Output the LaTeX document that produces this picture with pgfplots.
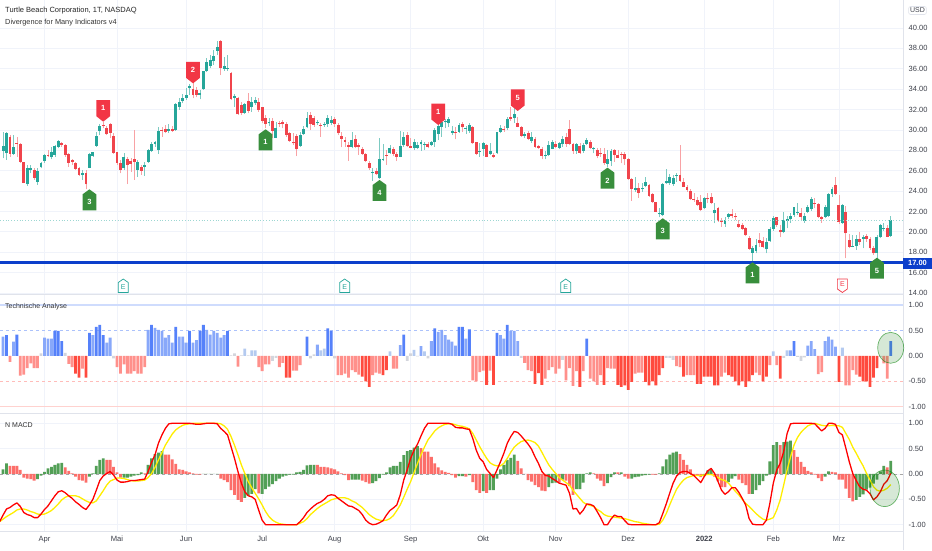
\documentclass[border=0pt]{standalone}
\usepackage{pgfplots}
\usepackage{pgfplotstable}
\usepackage{fontspec}
\setmainfont{Liberation Sans}
\pgfplotsset{compat=1.18}
\definecolor{upc}{HTML}{26A69A}
\definecolor{dnc}{HTML}{F0444C}
\definecolor{gridc}{HTML}{F0F3FA}
\definecolor{sepc}{HTML}{E0E3EB}
\definecolor{txt}{HTML}{3E414B}
\definecolor{pinr}{HTML}{F23645}
\definecolor{ping}{HTML}{388E3C}
\definecolor{tad}{HTML}{5581FA}
\definecolor{tal}{HTML}{88A8FA}
\definecolor{tav}{HTML}{B4CAF0}
\definecolor{tag}{HTML}{D3D5DC}
\definecolor{tar}{HTML}{FF4A3E}
\definecolor{tas}{HTML}{FF908B}
\definecolor{hg}{HTML}{529F56}
\definecolor{hr}{HTML}{FC6E69}
\definecolor{lineb}{HTML}{0C3FCB}
\definecolor{macdy}{HTML}{FFEE00}
\pgfdeclareplotmark{gpin}{%
  \pgfpathmoveto{\pgfqpoint{-6.9pt}{-5pt}}\pgfpathlineto{\pgfqpoint{0pt}{0pt}}\pgfpathlineto{\pgfqpoint{6.9pt}{-5pt}}%
  \pgfsetcornersarced{\pgfpoint{1pt}{1pt}}\pgfpathlineto{\pgfqpoint{6.9pt}{-21pt}}\pgfpathlineto{\pgfqpoint{-6.9pt}{-21pt}}\pgfpathclose\pgfusepathqfill}
\pgfdeclareplotmark{rpin}{%
  \pgfpathmoveto{\pgfqpoint{-6.9pt}{5.5pt}}\pgfpathlineto{\pgfqpoint{0pt}{0pt}}\pgfpathlineto{\pgfqpoint{6.9pt}{5.5pt}}%
  \pgfsetcornersarced{\pgfpoint{1pt}{1pt}}\pgfpathlineto{\pgfqpoint{6.9pt}{21.5pt}}\pgfpathlineto{\pgfqpoint{-6.9pt}{21.5pt}}\pgfpathclose\pgfusepathqfill}
\pgfdeclareplotmark{eup}{%
  \pgfpathmoveto{\pgfqpoint{-5pt}{-3.5pt}}\pgfpathlineto{\pgfqpoint{0pt}{0pt}}\pgfpathlineto{\pgfqpoint{5pt}{-3.5pt}}\pgfpathlineto{\pgfqpoint{5pt}{-13.5pt}}\pgfpathlineto{\pgfqpoint{-5pt}{-13.5pt}}\pgfpathclose\pgfusepathqstroke}
\pgfdeclareplotmark{edn}{%
  \pgfpathmoveto{\pgfqpoint{-5pt}{3.5pt}}\pgfpathlineto{\pgfqpoint{0pt}{0pt}}\pgfpathlineto{\pgfqpoint{5pt}{3.5pt}}\pgfpathlineto{\pgfqpoint{5pt}{13.5pt}}\pgfpathlineto{\pgfqpoint{-5pt}{13.5pt}}\pgfpathclose\pgfusepathqstroke}
\pgfplotstableread{
i o h l c
-12 27.97 29.83 27.21 28.42
-11 27.70 29.83 27.05 29.67
-10 29.34 29.50 27.38 27.64
-9 27.64 29.50 27.54 28.36
-8 28.75 29.34 27.38 28.65
-7 28.62 28.68 26.79 26.89
-6 26.89 26.89 24.76 24.82
-5 24.66 26.56 24.50 26.23
-4 26.07 26.56 25.74 26.30
-3 26.07 26.23 25.09 25.32
-2 24.92 26.23 24.60 26.00
-1 26.33 26.82 26.23 26.72
0 26.95 27.64 26.79 27.51
1 27.54 28.03 27.38 27.44
2 27.31 28.36 27.11 27.83
3 27.54 28.52 27.38 28.42
4 28.36 29.01 28.19 28.95
5 28.68 28.85 28.36 28.55
6 28.55 28.62 27.38 27.54
7 27.61 27.70 26.39 26.79
8 27.02 27.11 26.56 26.89
9 26.72 26.82 26.07 26.17
10 26.30 26.39 25.48 25.58
11 25.61 26.07 25.09 25.74
12 25.77 26.07 24.17 24.66
13 26.30 27.70 26.23 27.64
14 27.47 27.87 27.38 27.80
15 28.46 29.83 28.36 29.40
16 29.90 30.58 29.50 30.39
17 30.48 30.81 30.16 30.39
18 30.22 30.39 29.50 29.60
19 30.58 30.65 29.18 29.73
20 29.37 29.67 27.64 27.77
21 27.83 27.87 26.56 26.79
22 26.72 27.05 25.74 26.07
23 26.23 27.70 26.07 27.38
24 27.11 27.38 24.69 26.56
25 26.95 27.21 25.90 26.66
26 27.11 29.99 25.09 26.85
27 26.07 27.05 25.41 26.85
28 26.39 26.56 25.58 26.00
29 26.39 26.89 25.48 26.53
30 26.89 28.10 26.79 27.99
31 27.97 28.85 27.87 28.62
32 28.62 28.95 28.36 28.85
33 28.03 30.32 27.64 29.90
34 30.03 30.32 29.34 29.93
35 30.09 30.48 29.67 29.83
36 29.90 30.58 29.73 30.06
37 30.06 30.39 29.83 29.93
38 30.00 32.61 29.93 32.54
39 32.28 33.10 31.96 32.71
40 32.84 33.53 32.61 33.10
41 33.13 34.08 32.94 33.46
42 34.08 34.51 33.43 34.31
43 33.98 34.64 33.10 33.43
44 33.92 34.18 33.20 33.43
45 33.43 33.92 33.00 33.66
46 33.98 35.82 33.92 35.75
47 35.75 37.03 35.68 36.63
48 36.31 37.35 36.04 36.86
49 36.80 37.84 36.37 37.25
50 37.75 38.76 37.35 38.17
51 38.76 38.83 35.39 36.08
52 36.01 37.19 35.82 36.27
53 36.04 37.35 35.82 36.08
54 35.62 35.72 32.94 33.00
55 33.17 33.53 32.28 33.30
56 33.13 33.26 31.47 31.53
57 32.45 32.77 31.47 31.63
58 31.69 32.68 31.56 32.58
59 32.87 33.59 31.63 31.86
60 32.28 33.20 31.79 32.77
61 32.61 33.26 32.45 32.94
62 32.71 33.10 31.79 31.96
63 32.22 32.28 30.65 30.91
64 31.17 31.46 30.16 30.58
65 30.65 31.14 30.39 30.78
66 30.84 31.14 29.18 29.93
67 29.24 30.81 29.18 30.16
68 30.65 30.91 30.32 30.58
69 30.81 30.97 30.16 30.58
70 30.55 30.81 29.34 29.50
71 29.67 29.83 28.85 28.91
72 28.85 29.67 28.52 28.68
73 29.40 29.60 27.44 28.10
74 28.46 29.83 28.36 29.50
75 29.60 30.39 29.50 30.06
76 30.25 31.79 30.16 31.20
77 31.50 31.79 29.99 30.58
78 31.14 31.37 30.32 30.48
79 30.65 30.97 30.48 30.75
80 30.48 30.71 29.34 30.39
81 30.45 30.81 30.32 30.55
82 30.55 31.46 30.32 31.14
83 30.71 31.37 30.48 30.97
84 31.10 31.30 30.32 30.58
85 30.48 30.65 29.50 29.67
86 29.44 29.83 28.29 29.14
87 29.01 29.27 28.36 28.82
88 28.52 28.85 26.98 28.36
89 28.36 29.76 28.19 29.01
90 29.08 29.50 28.19 28.36
91 28.55 28.75 27.54 28.29
92 28.13 28.36 27.54 27.64
93 27.64 27.70 26.89 26.98
94 26.79 26.98 26.07 26.23
95 25.81 26.23 25.02 25.90
96 26.00 26.23 25.58 25.64
97 25.25 29.18 25.15 27.11
98 27.05 28.62 26.98 27.15
99 27.57 28.03 26.56 27.47
100 27.70 28.52 27.64 28.23
101 28.13 28.36 27.44 27.64
102 27.64 27.87 26.95 27.38
103 27.38 29.90 27.31 28.42
104 28.49 29.83 28.36 29.34
105 29.47 29.83 28.36 28.42
106 28.46 29.18 28.19 28.26
107 28.19 29.08 28.03 28.78
108 28.23 28.85 28.10 28.55
109 28.59 29.01 27.97 28.78
110 28.55 28.85 28.03 28.62
111 28.62 28.85 28.19 28.36
112 28.55 28.95 28.42 28.78
113 28.78 30.16 28.36 29.99
114 29.60 30.71 29.01 30.39
115 30.32 30.91 29.34 30.78
116 30.75 31.04 30.16 30.88
117 30.65 31.24 30.32 31.04
118 29.73 30.39 29.50 29.86
119 29.80 30.32 29.08 29.67
120 29.83 30.65 29.73 30.45
121 30.58 30.81 29.83 30.25
122 30.09 30.39 29.60 30.19
123 29.93 30.71 29.73 30.48
124 30.25 30.39 28.62 28.68
125 28.78 28.85 27.54 27.67
126 27.80 28.68 27.38 27.90
127 28.13 28.85 27.44 28.75
128 28.49 28.62 27.31 27.38
129 27.64 28.68 27.54 27.93
130 27.57 27.77 27.28 27.38
131 27.70 29.83 27.64 29.76
132 29.80 30.48 29.67 30.16
133 30.09 30.39 29.83 29.99
134 30.16 31.30 29.99 31.04
135 31.27 32.28 30.91 31.10
136 31.14 32.12 30.65 31.53
137 30.71 31.24 30.25 30.32
138 30.32 30.39 29.34 29.44
139 29.40 29.83 29.18 29.60
140 29.73 29.90 29.01 29.14
141 28.91 29.83 28.75 29.34
142 29.11 29.34 28.26 28.36
143 28.39 28.52 28.10 28.23
144 28.13 28.36 27.11 27.47
145 27.44 27.97 27.11 27.57
146 27.51 28.95 27.44 28.55
147 28.16 29.01 28.10 28.78
148 28.59 28.95 28.19 28.36
149 28.26 28.85 28.10 28.75
150 28.59 29.40 28.36 29.08
151 29.27 29.73 28.36 28.62
152 30.06 30.97 28.52 28.62
153 28.62 28.68 27.64 27.90
154 27.97 28.75 27.64 28.62
155 28.42 28.68 27.64 27.77
156 27.97 28.68 27.77 28.52
157 28.62 29.18 28.52 29.01
158 28.85 29.01 28.10 28.26
159 28.10 28.36 27.70 28.19
160 28.03 28.19 27.21 27.44
161 27.70 28.19 27.38 27.60
162 27.67 28.19 26.56 26.72
163 26.66 28.03 26.39 27.11
164 26.98 28.10 26.46 27.97
165 28.03 28.10 26.89 27.54
166 27.54 28.03 27.21 27.28
167 27.60 27.87 26.72 27.54
168 27.60 27.87 26.56 27.11
169 27.15 27.21 25.09 25.15
170 25.15 25.25 23.06 24.17
171 24.11 25.41 23.94 24.27
172 24.34 24.76 23.35 23.84
173 24.17 24.82 23.94 24.27
174 24.50 25.35 24.37 24.89
175 24.56 24.69 23.45 23.55
176 23.71 23.84 22.86 22.96
177 22.89 22.96 21.91 21.98
178 21.72 22.31 21.42 21.82
179 21.65 24.76 21.55 24.69
180 24.76 26.13 24.69 24.96
181 24.76 25.68 24.60 25.41
182 24.66 25.58 24.50 25.32
183 25.51 25.74 24.92 25.61
184 25.61 28.52 24.92 24.99
185 24.92 25.25 24.37 24.43
186 24.37 24.60 23.94 24.11
187 24.01 24.17 23.12 23.22
188 23.25 23.78 22.96 23.12
189 23.12 23.45 22.53 22.63
190 22.89 23.61 22.01 22.14
191 22.31 23.45 22.21 23.29
192 23.29 23.78 22.80 23.19
193 23.39 23.84 22.73 22.86
194 21.82 22.80 20.83 22.14
195 22.31 22.40 21.00 21.10
196 21.10 21.32 20.51 20.97
197 20.77 21.49 20.51 21.16
198 21.49 21.88 21.23 21.75
199 21.72 22.21 21.32 21.55
200 21.59 21.82 21.16 21.42
201 20.77 21.16 20.41 20.51
202 20.70 20.90 20.18 20.31
203 20.34 20.51 19.59 19.69
204 19.39 19.59 18.22 18.35
205 17.96 18.61 17.07 18.45
206 18.15 19.26 17.89 18.68
207 19.23 19.85 18.54 18.90
208 19.13 19.46 18.38 18.54
209 18.28 19.36 17.89 19.00
210 19.13 20.51 19.03 20.31
211 20.28 21.55 20.11 21.39
212 21.42 21.49 20.51 20.67
213 20.18 20.67 19.46 19.95
214 20.02 21.98 19.85 21.13
215 21.10 21.55 20.34 21.26
216 21.23 21.82 20.90 21.59
217 21.65 22.47 21.49 22.40
218 21.88 22.80 21.65 21.98
219 21.88 22.31 21.16 21.49
220 21.10 21.82 20.90 21.55
221 21.98 22.63 21.82 22.47
222 22.21 23.45 22.08 23.25
223 22.86 23.29 22.31 22.73
224 22.70 22.80 21.32 21.46
225 21.42 21.55 20.90 21.26
226 21.49 22.63 21.32 22.40
227 21.55 23.84 21.49 23.75
228 23.71 24.43 23.45 24.24
229 24.60 25.35 23.61 23.71
230 22.60 23.61 20.77 20.97
231 20.90 22.73 20.77 22.60
232 21.98 22.53 17.40 19.85
233 19.20 19.79 18.38 18.54
234 18.54 19.69 18.48 18.64
235 18.61 19.69 18.22 19.33
236 19.33 20.02 18.71 19.00
237 19.26 19.69 18.38 19.46
238 19.62 19.79 19.03 19.30
239 19.33 19.53 18.22 18.38
240 18.41 18.61 17.73 17.89
241 17.89 19.69 17.07 19.53
242 19.46 20.77 19.36 20.64
243 20.25 20.83 20.11 20.34
244 20.38 20.67 19.46 19.53
245 19.62 21.55 19.53 21.16
}\candles
\pgfplotstableread{
i v k
-12 .38 2
-11 .41 1
-10 -.12 6
-9 .28 2
-8 .42 1
-7 -.39 6
-6 -.37 6
-5 -.24 6
-4 -.15 6
-3 -.24 6
-2 -.24 6
-1 .05 4
0 .36 2
1 .34 2
2 .34 2
3 .49 1
4 .49 1
5 .29 1
6 .06 4
7 -.16 6
8 -.22 6
9 -.35 5
10 -.43 5
11 -.25 6
12 -.43 5
13 .45 1
14 .41 2
15 .57 1
16 .61 1
17 .41 1
18 .26 2
19 .36 2
20 -.05 4
21 -.22 6
22 -.35 6
23 -.17 6
24 -.35 6
25 -.35 6
26 -.30 6
27 -.35 6
28 -.35 6
29 -.22 6
30 .51 2
31 .61 1
32 .55 2
33 .51 2
34 .49 2
35 .36 2
36 .41 2
37 .26 2
38 .57 1
39 .38 2
40 .38 2
41 .26 2
42 .49 1
43 .26 2
44 .31 2
45 .49 1
46 .61 1
47 .51 2
48 .42 2
49 .49 2
50 .45 2
51 .36 2
52 .41 2
53 .49 1
54 .01 4
55 .05 4
56 -.21 6
57 .01 4
58 .14 3
59 .01 4
60 .11 3
61 .11 3
62 -.22 6
63 -.30 6
64 -.17 6
65 -.17 6
66 -.10 4
67 -.04 4
68 -.22 6
69 -.14 6
70 -.43 5
71 -.43 5
72 -.29 6
73 -.29 6
74 -.18 6
75 .00 4
76 .38 1
77 -.05 4
78 .03 4
79 .22 2
80 .11 3
81 .14 3
82 .54 1
83 .49 1
84 -.05 4
85 -.38 6
86 -.38 6
87 -.35 6
88 -.43 6
89 -.28 6
90 -.32 6
91 -.37 6
92 -.41 5
93 -.50 5
94 -.61 5
95 -.38 6
96 -.33 6
97 -.35 6
98 -.38 5
99 -.28 5
100 .09 3
101 -.25 6
102 -.25 6
103 .21 2
104 .42 1
105 -.10 4
106 .05 4
107 .12 3
108 -.01 4
109 .19 2
110 .09 3
111 -.05 4
112 .29 2
113 .54 1
114 .47 2
115 .51 2
116 .41 2
117 .32 2
118 .28 2
119 .20 2
120 .57 1
121 .57 1
122 .34 2
123 .52 1
124 -.48 6
125 -.50 6
126 -.32 6
127 -.29 6
128 -.57 5
129 -.29 6
130 -.57 5
131 .45 1
132 .41 2
133 .34 2
134 .61 1
135 .49 2
136 .49 2
137 .29 2
138 -.04 4
139 -.14 6
140 -.28 6
141 -.30 6
142 -.55 5
143 -.34 5
144 -.57 5
145 -.45 6
146 -.28 6
147 -.22 6
148 -.35 6
149 -.25 6
150 -.08 4
151 -.48 6
152 -.24 6
153 -.59 6
154 -.30 6
155 -.61 5
156 -.30 6
157 .34 1
158 -.45 6
159 -.50 6
160 -.57 6
161 -.38 6
162 -.57 5
163 -.24 6
164 -.25 6
165 -.25 6
166 -.57 5
167 -.61 5
168 -.58 5
169 -.67 5
170 -.51 5
171 -.35 6
172 -.33 6
173 -.33 6
174 -.51 5
175 -.58 5
176 -.50 5
177 -.58 5
178 -.38 5
179 -.24 5
180 -.04 4
181 -.04 4
182 -.08 4
183 -.20 6
184 -.22 6
185 -.41 5
186 -.38 6
187 -.38 6
188 -.38 6
189 -.55 5
190 -.55 5
191 -.41 5
192 -.41 5
193 -.41 5
194 -.58 5
195 -.58 5
196 -.41 6
197 -.33 6
198 -.38 5
199 -.41 5
200 -.50 5
201 -.58 5
202 -.50 5
203 -.61 5
204 -.50 5
205 -.38 5
206 -.33 6
207 -.38 6
208 -.50 5
209 -.41 5
210 -.18 6
211 .09 3
212 -.18 6
213 -.45 5
214 -.04 4
215 .11 3
216 .11 2
217 .29 1
218 -.02 4
219 -.10 4
220 -.03 4
221 .20 2
222 .29 2
223 .13 2
224 -.36 6
225 -.32 6
226 .29 2
227 .38 2
228 .32 2
229 .18 2
230 -.51 5
231 .16 3
232 -.58 6
233 -.58 6
234 -.28 6
235 -.37 6
236 -.41 5
237 -.50 5
238 -.50 5
239 -.61 5
240 -.43 5
241 -.24 5
242 -.02 4
243 -.15 6
244 -.45 6
245 .29 1
}\tarating
\pgfplotstableread{
i r y
-13 -.94 -.94
-12 -.81 -.89
-11 -.69 -.84
-10 -.66 -.80
-9 -.61 -.76
-8 -.57 -.71
-7 -.64 -.69
-6 -.76 -.69
-5 -.80 -.71
-4 -.82 -.74
-3 -.86 -.76
-2 -.86 -.79
-1 -.79 -.80
0 -.70 -.79
1 -.63 -.76
2 -.53 -.72
3 -.43 -.66
4 -.35 -.59
5 -.33 -.51
6 -.37 -.46
7 -.43 -.43
8 -.48 -.43
9 -.55 -.43
10 -.60 -.45
11 -.66 -.49
12 -.70 -.53
13 -.61 -.56
14 -.50 -.57
15 -.32 -.53
16 -.13 -.43
17 -.04 -.33
18 .01 -.22
19 .05 -.14
20 -.02 -.11
21 -.12 -.08
22 -.16 -.08
23 -.16 -.09
24 -.15 -.11
25 -.13 -.13
26 -.13 -.14
27 -.12 -.14
28 -.11 -.13
29 -.10 -.12
30 .05 -.07
31 .23 .01
32 .38 .13
33 .61 .28
34 .77 .42
35 .90 .57
36 .99 .68
37 1 .79
38 1 .87
39 1 .92
40 1 .96
41 1 .98
42 1 .99
43 .99 1
44 .98 1
45 .98 1
46 .99 1
47 1 1
48 1 1
49 1 1
50 .99 1
51 .90 .99
52 .84 .95
53 .77 .88
54 .54 .74
55 .31 .57
56 .05 .38
57 -.18 .18
58 -.35 .01
59 -.43 -.15
60 -.45 -.27
61 -.50 -.38
62 -.71 -.49
63 -.91 -.61
64 -1 -.74
65 -1 -.84
66 -1 -.91
67 -1 -.95
68 -1 -.98
69 -1 -.99
70 -1 -1
71 -1 -1
72 -1 -1
73 -1 -1
74 -.94 -.97
75 -.86 -.94
76 -.76 -.88
77 -.69 -.80
78 -.63 -.74
79 -.58 -.68
80 -.55 -.63
81 -.50 -.59
82 -.43 -.55
83 -.41 -.51
84 -.42 -.49
85 -.48 -.47
86 -.53 -.47
87 -.58 -.47
88 -.63 -.49
89 -.64 -.53
90 -.68 -.56
91 -.72 -.61
92 -.80 -.66
93 -.91 -.73
94 -.97 -.80
95 -1 -.85
96 -.99 -.89
97 -.96 -.91
98 -.92 -.92
99 -.81 -.91
100 -.72 -.88
101 -.67 -.82
102 -.61 -.72
103 -.41 -.61
104 -.12 -.46
105 .08 -.30
106 .31 -.15
107 .47 .03
108 .59 .21
109 .75 .38
110 .90 .53
111 1 .67
112 1 .76
113 1 .85
114 1 .91
115 1 .95
116 1 .98
117 1 .99
118 .98 .99
119 .92 .97
120 .91 .95
121 .91 .94
122 .89 .92
123 .88 .89
124 .70 .80
125 .47 .67
126 .31 .54
127 .24 .42
128 .09 .31
129 .01 .22
130 -.07 .18
131 .08 .16
132 .24 .16
133 .41 .21
134 .61 .31
135 .74 .43
136 .84 .53
137 .82 .59
138 .75 .64
139 .67 .66
140 .59 .67
141 .49 .65
142 .34 .62
143 .21 .55
144 .05 .43
145 -.03 .30
146 -.04 .18
147 -.09 .09
148 -.13 .01
149 -.18 -.07
150 -.20 -.12
151 -.22 -.17
152 -.38 -.22
153 -.69 -.32
154 -.68 -.40
155 -.79 -.48
156 -.71 -.56
157 -.59 -.60
158 -.60 -.62
159 -.63 -.64
160 -.74 -.70
161 -.86 -.74
162 -1 -.80
163 -1 -.83
164 -.89 -.84
165 -.81 -.85
166 -.84 -.86
167 -.84 -.87
168 -.92 -.88
169 -.99 -.90
170 -1 -.92
171 -1 -.94
172 -1 -.95
173 -1 -.97
174 -1 -.98
175 -1 -.99
176 -1 -1
177 -1 -1
178 -.96 -.99
179 -.78 -.91
180 -.59 -.78
181 -.38 -.61
182 -.18 -.45
183 -.04 -.30
184 .03 -.20
185 .05 -.12
186 .05 -.07
187 .01 -.05
188 -.03 -.03
189 -.10 -.03
190 -.17 -.03
191 -.05 -.02
192 .06 -.01
193 .11 -.01
194 .01 -.03
195 -.15 -.07
196 -.32 -.11
197 -.40 -.13
198 -.35 -.18
199 -.27 -.26
200 -.27 -.34
201 -.36 -.41
202 -.48 -.50
203 -.61 -.58
204 -.88 -.64
205 -.99 -.71
206 -1 -.78
207 -1 -.84
208 -1 -.89
209 -.91 -.91
210 -.58 -.89
211 -.18 -.86
212 .08 -.71
213 .21 -.51
214 .44 -.22
215 .80 .08
216 .99 .34
217 1 .57
218 1 .72
219 1 .82
220 1 .89
221 1 .95
222 1 .98
223 .99 1
224 .92 .98
225 .85 .96
226 .90 .95
227 1 .95
228 1 .96
229 .98 .95
230 .82 .95
231 .77 .92
232 .51 .80
233 .24 .68
234 .01 .53
235 -.13 .41
236 -.25 .28
237 -.30 .16
238 -.32 .01
239 -.39 -.12
240 -.51 -.25
241 -.45 -.32
242 -.35 -.34
243 -.20 -.32
244 -.13 -.28
245 .01 -.21
}\macdlines
\pgfplotstableread{
i h k
-12 .09 1
-11 .21 1
-10 .16 0
-9 .16 0
-8 .16 0
-7 .08 0
-6 -.07 0
-5 -.09 0
-4 -.10 0
-3 -.13 0
-2 -.10 1
-1 -.03 1
0 .04 1
1 .11 1
2 .14 1
3 .18 1
4 .21 1
5 .22 1
6 .13 0
7 .06 0
8 .01 0
9 -.05 0
10 -.12 0
11 -.13 0
12 -.17 0
13 -.05 1
14 .01 1
15 .16 1
16 .28 1
17 .31 1
18 .28 0
19 .28 0
20 .14 0
21 .03 0
22 -.07 0
23 -.07 1
24 -.07 1
25 -.05 1
26 -.03 1
27 -.02 1
28 .03 1
29 .01 0
30 .18 1
31 .31 1
32 .39 1
33 .42 1
34 .45 1
35 .38 0
36 .38 0
37 .29 0
38 .20 0
39 .09 0
40 .08 0
41 .05 0
42 .03 0
43 .01 0
44 -.01 0
45 -.01 0
46 0 1
47 0 1
48 0 1
49 0 1
50 0 1
51 -.09 0
52 -.12 0
53 -.16 0
54 -.32 0
55 -.41 0
56 -.51 0
57 -.55 0
58 -.47 1
59 -.43 1
60 -.39 1
61 -.30 1
62 -.38 0
63 -.39 1
64 -.30 1
65 -.25 1
66 -.20 1
67 -.14 1
68 -.09 1
69 -.05 1
70 -.03 1
71 -.01 1
72 -.01 1
73 .03 1
74 .04 1
75 .08 1
76 .17 1
77 .18 1
78 .18 1
79 .18 0
80 .14 0
81 .14 0
82 .13 0
83 .11 0
84 .09 0
85 .05 0
86 .01 0
87 -.02 0
88 -.12 0
89 -.11 1
90 -.11 1
91 -.11 1
92 -.13 0
93 -.16 0
94 -.19 0
95 -.18 1
96 -.14 1
97 -.08 1
98 -.01 1
99 .03 1
100 .13 1
101 .16 1
102 .16 1
103 .24 1
104 .37 1
105 .45 1
106 .47 1
107 .52 1
108 .55 1
109 .51 0
110 .44 0
111 .44 0
112 .34 0
113 .21 0
114 .13 0
115 .07 0
116 .04 0
117 .02 0
118 -.02 0
119 -.07 0
120 -.04 1
121 -.04 1
122 -.05 0
123 -.02 1
124 -.16 0
125 -.32 0
126 -.37 0
127 -.34 1
128 -.37 0
129 -.32 1
130 -.32 1
131 -.09 1
132 .09 1
133 .18 1
134 .28 1
135 .32 1
136 .38 1
137 .26 0
138 .11 0
139 0 0
140 -.12 0
141 -.15 0
142 -.22 0
143 -.26 0
144 -.33 0
145 -.34 0
146 -.26 1
147 -.18 1
148 -.17 1
149 -.17 0
150 -.11 1
151 -.13 0
152 -.24 0
153 -.41 0
154 -.30 1
155 -.30 1
156 -.17 1
157 .01 1
158 .03 1
159 .01 0
160 -.09 0
161 -.13 0
162 -.24 0
163 -.18 1
164 -.06 1
165 .03 1
166 .03 0
167 .03 1
168 -.05 0
169 -.09 0
170 -.09 1
171 -.06 1
172 -.05 1
173 -.03 1
174 -.02 1
175 -.01 1
176 -.01 0
177 -.01 0
178 .01 1
179 .15 1
180 .29 1
181 .38 1
182 .42 1
183 .44 1
184 .39 0
185 .28 0
186 .18 0
187 .09 0
188 -.03 0
189 -.03 0
190 -.06 0
191 -.04 1
192 .07 1
193 .09 1
194 -.05 0
195 -.14 0
196 -.26 0
197 -.26 0
198 -.16 1
199 -.09 1
200 -.04 1
201 -.11 0
202 -.18 0
203 -.22 0
204 -.39 0
205 -.39 1
206 -.32 1
207 -.22 1
208 -.14 1
209 -.03 1
210 .25 1
211 .57 1
212 .63 1
213 .57 0
214 .63 1
215 .64 1
216 .66 1
217 .47 0
218 .34 0
219 .24 0
220 .14 0
221 .06 0
222 .03 0
223 -.01 0
224 -.08 0
225 -.14 0
226 -.05 1
227 .05 1
228 .04 0
229 .03 0
230 -.11 0
231 -.11 0
232 -.29 0
233 -.47 0
234 -.54 0
235 -.51 1
236 -.45 1
237 -.40 1
238 -.31 1
239 -.27 1
240 -.19 1
241 -.11 1
242 .05 1
243 .16 1
244 .13 0
245 .26 1
}\macdhist
\pgfplotsset{
  pane/.style={scale only axis,width=903pt,xmin=-12.884,xmax=248.55,
    axis line style={draw=none},tick style={draw=none},clip=false,
    xtick={0,21,41,63,84,106,127,148,169,191,211,230},xticklabels={},
    yticklabel pos=right,xmajorgrids,
    grid style={color=gridc,line width=0.7pt},
    /pgf/number format/assume math mode=true,
    /pgf/number format/fixed,/pgf/number format/fixed zerofill,/pgf/number format/precision=2,
    yticklabel style={font=\fontsize{7.5}{9}\selectfont,text=txt,anchor=west,xshift=2.2pt},
    xticklabel style={font=\fontsize{7.6}{9}\selectfont,text=txt,text height=6pt,text depth=1pt}},
  tabar/.style={ybar,bar width=2.8pt,bar shift=0pt,draw=none,fill=#1,forget plot},
  wick/.style={draw=none,no markers,forget plot,error bars/.cd,y dir=plus,y explicit,error mark=none,error bar style={draw=#1,line width=0.7pt}},
  body/.style={draw=none,no markers,forget plot,error bars/.cd,y dir=plus,y explicit,error mark=none,error bar style={draw=#1,line width=2.9pt}},
}
\newcommand{\tabars}[2]{\addplot[tabar=#2] table[x=i,y expr={\thisrow{k}==#1?\thisrow{v}:nan}]{\tarating};}
\newcommand{\hbars}[2]{\addplot[tabar=#2] table[x=i,y expr={\thisrow{k}==#1?\thisrow{h}:nan}]{\macdhist};}
\begin{document}
\begin{tikzpicture}
\path[use as bounding box,fill=white] (0pt,0pt) rectangle (932pt,550pt);
% price pane
\begin{axis}[pane,at={(0pt,256pt)},anchor=south west,height=294pt,
  ymin=13.90,ymax=42.75,ytick={14,16,...,40},ymajorgrids]
\addplot[wick=upc!60] table[x expr={\thisrow{c}>=\thisrow{o}?\thisrow{i}:nan},y=l,y error plus expr=\thisrow{h}-\thisrow{l}]{\candles};
\addplot[wick=dnc!50] table[x expr={\thisrow{c}<\thisrow{o}?\thisrow{i}:nan},y=l,y error plus expr=\thisrow{h}-\thisrow{l}]{\candles};
\addplot[body=upc] table[x expr={\thisrow{c}>=\thisrow{o}?\thisrow{i}:nan},y=o,y error plus expr=\thisrow{c}-\thisrow{o}]{\candles};
\addplot[body=dnc] table[x expr={\thisrow{c}<\thisrow{o}?\thisrow{i}:nan},y=c,y error plus expr=\thisrow{o}-\thisrow{c}]{\candles};
\addplot[forget plot,color=upc!45,line width=0.8pt,dotted] coordinates {(-12.884,21.16)(248.55,21.16)};
\addplot[forget plot,color=lineb!60,line width=3.4pt] coordinates {(-12.884,17)(248.55,17)};
\addplot[forget plot,color=lineb,line width=2.3pt] coordinates {(-12.884,17)(248.55,17)};
\addplot[only marks,mark=gpin,mark options={fill=ping,draw=none},point meta=explicit symbolic,
  nodes near coords,every node near coord/.append style={anchor=center,yshift=-13pt,text=white,font=\fontsize{7.5}{8}\selectfont\bfseries}]
  coordinates {(13,24.17)[3] (64,30.06)[1] (97,25.09)[4] (163,26.30)[2] (179,21.33)[3] (205,17.01)[1] (241,17.46)[5]};
\addplot[only marks,mark=rpin,mark options={fill=pinr,draw=none},point meta=explicit symbolic,
  nodes near coords,every node near coord/.append style={anchor=center,yshift=13.5pt,text=white,font=\fontsize{7.5}{8}\selectfont\bfseries}]
  coordinates {(17,30.81)[1] (43,34.57)[2] (114,30.48)[1] (137,31.86)[5]};
\addplot[only marks,mark=eup,mark options={draw=upc,line width=0.7pt},point meta=explicit symbolic,
  nodes near coords,every node near coord/.append style={anchor=center,yshift=-8.5pt,text=upc,font=\fontsize{7}{8}\selectfont}]
  coordinates {(22.8,15.37)[E] (86.9,15.37)[E] (150.9,15.37)[E]};
\addplot[only marks,mark=edn,mark options={draw=pinr,line width=0.7pt},point meta=explicit symbolic,
  nodes near coords,every node near coord/.append style={anchor=center,yshift=8.5pt,text=pinr,font=\fontsize{7}{8}\selectfont}]
  coordinates {(231,14.05)[E]};
\end{axis}
% technical rating pane
\begin{axis}[pane,at={(0pt,136.5pt)},anchor=south west,height=118.5pt,
  ymin=-1.134,ymax=1.197,ytick={-1,-0.5,0,0.5,1}]
\addplot[forget plot,color=tal!40,line width=1.4pt] coordinates {(-12.884,1)(248.55,1)};
\addplot[forget plot,color=tar!25,line width=1.2pt] coordinates {(-12.884,-1)(248.55,-1)};
\addplot[forget plot,color=tal!70,line width=0.7pt,dashed] coordinates {(-12.884,.5)(248.55,.5)};
\addplot[forget plot,color=tas!60,line width=0.7pt,dashed] coordinates {(-12.884,-.5)(248.55,-.5)};
\tabars{2}{tal}\tabars{1}{tad}\tabars{3}{tav}\tabars{4}{tag}\tabars{5}{tar}\tabars{6}{tas}
\end{axis}
% macd pane
\begin{axis}[pane,at={(0pt,18.3pt)},anchor=south west,height=118.2pt,
  ymin=-1.138,ymax=1.193,ytick={-1,-0.5,0,0.5,1},ymajorgrids,
  xticklabels={Apr,Mai,Jun,Jul,Aug,Sep,Okt,Nov,Dez,\textbf{2022},Feb,Mrz}]
\addplot[forget plot,color=black!35,line width=0.6pt,dashed] coordinates {(-12.884,0)(248.55,0)};
\hbars{1}{hg}\hbars{0}{hr}
\addplot[forget plot,color=macdy,line width=1.3pt,line join=round] table[x=i,y=y]{\macdlines};
\addplot[forget plot,color=red,line width=1.3pt,line join=round] table[x=i,y=r]{\macdlines};
\end{axis}
% pane frames
\draw[sepc,line width=1pt] (0pt,255.5pt)--(903pt,255.5pt) (0pt,136.5pt)--(903pt,136.5pt) (0pt,18.3pt)--(903pt,18.3pt) (903pt,0pt)--(903pt,550pt);
% highlights
\fill[green!45!black,fill opacity=0.16] (890.7pt,202.2pt) ellipse (13pt and 15.5pt);
\draw[green!50!black,opacity=0.55,line width=0.7pt] (890.7pt,202.2pt) ellipse (13pt and 15.5pt);
\fill[green!45!black,fill opacity=0.16] (884.7pt,61.7pt) ellipse (14.7pt and 18.3pt);
\draw[green!50!black,opacity=0.55,line width=0.7pt] (884.7pt,61.7pt) ellipse (14.7pt and 18.3pt);
% texts
\node[anchor=west,inner sep=0pt,text=black!85,font=\fontsize{7.5}{10}\selectfont] at (5pt,539pt) {Turtle Beach Corporation, 1T, NASDAQ};
\node[anchor=west,inner sep=0pt,text=black!80,font=\fontsize{7.35}{10}\selectfont] at (5pt,527pt) {Divergence for Many Indicators v4};
\node[anchor=west,inner sep=0pt,text=black!80,font=\fontsize{7}{10}\selectfont] at (5pt,243.5pt) {Technische Analyse};
\node[anchor=west,inner sep=0pt,text=black!80,font=\fontsize{7}{10}\selectfont] at (5pt,125pt) {N MACD};
\node[draw=sepc,rounded corners=2pt,line width=0.6pt,inner xsep=1.5pt,inner ysep=1.5pt,text=txt,font=\fontsize{7}{8}\selectfont] at (917.5pt,539.5pt) {USD};
\node[fill=lineb,text=white,minimum width=29pt,minimum height=11pt,inner sep=0pt,font=\fontsize{7.5}{9}\selectfont\bfseries] at (917.5pt,287pt) {17.00};
\end{tikzpicture}
\end{document}
